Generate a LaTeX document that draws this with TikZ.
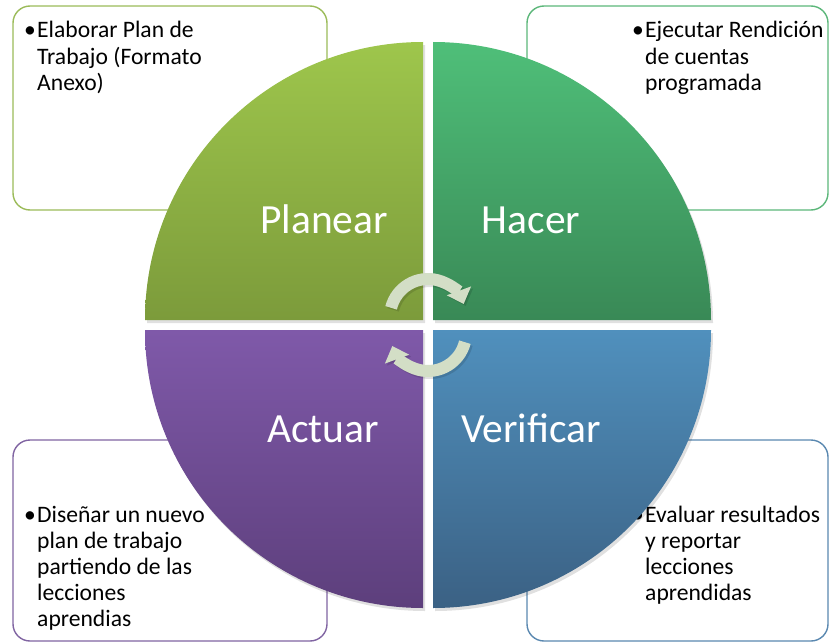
\documentclass[tikz,border=0pt]{standalone}
\usepackage{fontspec}
\setmainfont{Carlito}
\usetikzlibrary{arrows.meta}
\definecolor{plTop}{HTML}{9EC64C}
\definecolor{plBot}{HTML}{7C9B3B}
\definecolor{haTop}{HTML}{4FBF79}
\definecolor{haBot}{HTML}{398956}
\definecolor{acTop}{HTML}{7F59A9}
\definecolor{acBot}{HTML}{5D3F7C}
\definecolor{veTop}{HTML}{5090BD}
\definecolor{veBot}{HTML}{3B6184}
\definecolor{plLine}{HTML}{9BBB59}
\definecolor{haLine}{HTML}{5CB77A}
\definecolor{acLine}{HTML}{8064A2}
\definecolor{veLine}{HTML}{5A88B0}
\definecolor{arrFill}{HTML}{D3DEC6}
\tikzset{
  infobox/.style={line width=1.4pt, rounded corners=17pt, fill=white},
  bigtxt/.style={text=white, font=\fontsize{41.5}{41.5}\selectfont, anchor=base, inner sep=0pt},
  boxtxt/.style={text=black, font=\fontsize{23.6}{26}\selectfont, anchor=base west, inner sep=0pt},
  bul/.style={text=black, font=\fontsize{23.6}{26}\selectfont, anchor=base east, inner sep=0pt},
  quadshadow/.style={fill=black, opacity=0.12},
  cyc/.style={line width=12pt, draw=arrFill, -{Triangle[width=25pt,length=14pt]}},
  cycshadow/.style={line width=12pt, draw=black, opacity=0.12, -{Triangle[width=25pt,length=14pt]}}
}
\begin{document}
\begin{tikzpicture}[x=1pt,y=-1pt]
\useasboundingbox (0,0) rectangle (830,642);
% info boxes
\draw[infobox, draw=plLine] (13,6) rectangle (327,210);
\draw[infobox, draw=haLine] (527,6) rectangle (828,210);
\draw[infobox, draw=acLine] (13,440) rectangle (327,641);
\draw[infobox, draw=veLine] (527,440) rectangle (828,641);
% box texts
\node[bul] (b1) at (36,38) {•};
\node[boxtxt] (t1a) at (37,38) {Elaborar Plan de};
\node[boxtxt] (t1b) at (37,65) {Trabajo (Formato};
\node[boxtxt] (t1c) at (37,91) {Anexo)};
\node[bul] (b2) at (644,38) {•};
\node[boxtxt] (t2a) at (645,38) {Ejecutar Rendición};
\node[boxtxt] (t2b) at (645,64) {de cuentas};
\node[boxtxt] (t2c) at (645,90) {programada};
\node[bul] (b3) at (36,522) {•};
\node[boxtxt] (t3a) at (37,522) {Diseñar un nuevo};
\node[boxtxt] (t3b) at (37,548) {plan de trabajo};
\node[boxtxt] (t3c) at (37,574) {partiendo de las};
\node[boxtxt] (t3d) at (37,600) {lecciones};
\node[boxtxt] (t3e) at (37,626) {aprendias};
\node[bul] (b4) at (644,522) {•};
\node[boxtxt] (t4a) at (645,522) {Evaluar resultados};
\node[boxtxt] (t4b) at (645,548) {y reportar};
\node[boxtxt] (t4c) at (645,574) {lecciones};
\node[boxtxt] (t4d) at (645,600) {aprendidas};
% quadrant shadows
\fill[quadshadow] (425,323) -- (147,323) arc[start angle=180, end angle=270, radius=278] -- cycle;
\fill[quadshadow] (435,323) -- (435,45) arc[start angle=270, end angle=360, radius=278] -- cycle;
\fill[quadshadow] (425,333) -- (425,611) arc[start angle=90, end angle=180, radius=278] -- cycle;
\fill[quadshadow] (435,333) -- (713,333) arc[start angle=0, end angle=90, radius=278] -- cycle;
% quadrants
\shade[top color=plTop, bottom color=plBot] (423,320) -- (145,320) arc[start angle=180, end angle=270, radius=278] -- cycle;
\shade[top color=haTop, bottom color=haBot] (433,320) -- (433,42) arc[start angle=270, end angle=360, radius=278] -- cycle;
\shade[top color=acTop, bottom color=acBot] (423,330) -- (423,608) arc[start angle=90, end angle=180, radius=278] -- cycle;
\shade[top color=veTop, bottom color=veBot] (433,330) -- (711,330) arc[start angle=0, end angle=90, radius=278] -- cycle;
% labels
\node[bigtxt] (plan) at (324,233) {Planear};
\node[bigtxt] (hac) at (531,233) {Hacer};
\node[bigtxt] (act) at (323,442) {Actuar};
\node[bigtxt] (ver) at (531,442) {Verificar};
% cycle arrows
\draw[cycshadow] (430,319) ++(194:38) arc[start angle=194, end angle=340, radius=38];
\draw[cycshadow] (430,335) ++(14:38) arc[start angle=14, end angle=160, radius=38];
\draw[cyc] (428,317) ++(194:38) arc[start angle=194, end angle=340, radius=38];
\draw[cyc] (428,333) ++(14:38) arc[start angle=14, end angle=160, radius=38];
\end{tikzpicture}
\end{document}
